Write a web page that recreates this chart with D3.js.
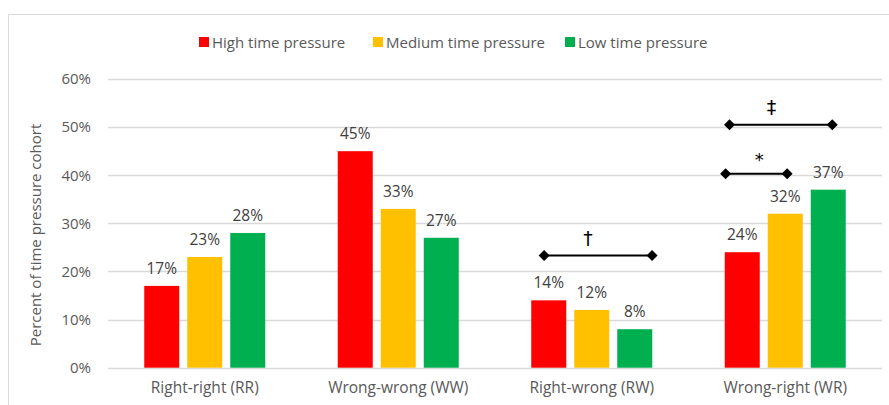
<!DOCTYPE html>
<html>
<head>
<meta charset="utf-8">
<script src="https://cdn.jsdelivr.net/npm/d3@7"></script>
<style>
  body { margin: 0; background: #fff; }
  svg { display: block; font-family: "Open Sans", sans-serif; }
</style>
</head>
<body>
<svg id="chart" width="889" height="405"></svg>
<script>
const categories = ["Right-right (RR)", "Wrong-wrong (WW)", "Right-wrong (RW)", "Wrong-right (WR)"];
const seriesNames = ["High time pressure", "Medium time pressure", "Low time pressure"];
const seriesColors = ["#FF0000", "#FFC000", "#00B050"];
const highValues = [17, 45, 14, 24];
const mediumValues = [23, 33, 12, 32];
const lowValues = [28, 27, 8, 37];
const yTicks = [0, 10, 20, 30, 40, 50, 60];
const yTitle = "Percent of time pressure cohort";
// significance brackets: category, from/to bar slot (fractional), level (%), symbol, symbol slot
const bracketCats = ["Right-wrong (RW)", "Wrong-right (WR)", "Wrong-right (WR)"];
const bracketFrom = [0.30, 0.02, 0.11];
const bracketTo = [2.81, 1.45, 2.50];
const bracketLevel = [23.3, 40.3, 50.5];
const bracketSymbols = ["†", "*", "‡"];
const bracketSymbolSlot = [1.32, 0.80, 1.09];

const allValues = [highValues, mediumValues, lowValues];
const svg = d3.select("#chart");
const W = 889, H = 405;
const plot = { left: 108, right: 882, top: 79, bottom: 367.7 };

// chart border
svg.append("path")
  .attr("d", `M8.5,${H + 5} V14.5 H${W + 5}`)
  .attr("fill", "none").attr("stroke", "#D9D9D9").attr("stroke-width", 1);

const y = d3.scaleLinear().domain([0, 60]).range([plot.bottom, plot.top]);
const x0 = d3.scaleBand().domain(categories).range([plot.left, plot.right]).paddingInner(0).paddingOuter(0);
const barW = 35, step = 43;
const groupW = step * 2 + barW;
const groupStart = c => x0(c) + (x0.bandwidth() - groupW) / 2;
const slotX = (c, s) => groupStart(c) + s * step + barW / 2;

// gridlines
svg.append("g").selectAll("line").data(yTicks).join("line")
  .attr("x1", plot.left).attr("x2", plot.right)
  .attr("y1", d => Math.round(y(d)) + 0.5).attr("y2", d => Math.round(y(d)) + 0.5)
  .attr("stroke", "#D9D9D9").attr("stroke-width", 1.3);

// y axis labels
const yAxis = d3.axisLeft(y).tickValues(yTicks).tickFormat(d => d + "%").tickSize(0).tickPadding(0);
const ya = svg.append("g").attr("transform", `translate(91,0)`).call(yAxis);
ya.select(".domain").remove();
ya.selectAll("text").attr("font-size", 15).attr("fill", "#595959").attr("font-family", "Open Sans, sans-serif");

// y title
svg.append("text")
  .attr("transform", `translate(41,235) rotate(-90)`)
  .attr("text-anchor", "middle")
  .attr("font-size", 15).attr("fill", "#595959")
  .text(yTitle);

// x axis labels
const xAxis = d3.axisBottom(x0).tickSize(0).tickPadding(0);
const xa = svg.append("g").attr("transform", `translate(0,${plot.bottom + 14.5})`).call(xAxis);
xa.select(".domain").remove();
xa.selectAll("text").attr("font-size", 15.5).attr("fill", "#595959").attr("font-family", "Open Sans, sans-serif");

// bars
const barData = [];
categories.forEach((c, ci) => {
  allValues.forEach((vals, si) => barData.push({ c, si, v: vals[ci] }));
});
svg.append("g").selectAll("rect").data(barData).join("rect")
  .attr("x", d => groupStart(d.c) + d.si * step)
  .attr("y", d => y(d.v))
  .attr("width", barW)
  .attr("height", d => y(0) - y(d.v))
  .attr("fill", d => seriesColors[d.si]);

// data labels
svg.append("g").selectAll("text").data(barData).join("text")
  .attr("x", d => slotX(d.c, d.si))
  .attr("y", d => y(d.v) - 12)
  .attr("text-anchor", "middle")
  .attr("font-size", 15.5).attr("fill", "#404040")
  .text(d => d.v + "%");

// brackets
const bracketData = bracketCats.map((c, i) => ({
  c, from: bracketFrom[i], to: bracketTo[i], lvl: bracketLevel[i], sym: bracketSymbols[i], ss: bracketSymbolSlot[i]
}));
const bg = svg.append("g");
const sx = (c, s) => groupStart(c) + (s) * step;
bracketData.forEach(b => {
  const x1 = sx(b.c, b.from), x2 = sx(b.c, b.to), yy = y(b.lvl);
  bg.append("line").attr("x1", x1).attr("x2", x2).attr("y1", yy).attr("y2", yy)
    .attr("stroke", "#000").attr("stroke-width", 2);
  [x1, x2].forEach(xx => {
    bg.append("path").attr("d", `M${xx - 5.5},${yy} L${xx},${yy - 5.5} L${xx + 5.5},${yy} L${xx},${yy + 5.5} Z`)
      .attr("fill", "#000");
  });
  bg.append("text").attr("x", sx(b.c, b.ss)).attr("y", yy - (b.sym === "*" ? 8 : 11))
    .attr("text-anchor", "middle").attr("font-size", b.sym === "*" ? 18 : 19).attr("fill", "#000")
    .attr("font-family", "DejaVu Sans, sans-serif")
    .text(b.sym);
});

// legend
const legendX = [199, 373, 565];
const lg = svg.append("g");
seriesNames.forEach((n, i) => {
  lg.append("rect").attr("x", legendX[i]).attr("y", 37).attr("width", 10).attr("height", 10).attr("fill", seriesColors[i]);
  lg.append("text").attr("x", legendX[i] + 13).attr("y", 47.5).attr("font-size", 15).attr("fill", "#595959").text(n);
});
</script>
</body>
</html>
